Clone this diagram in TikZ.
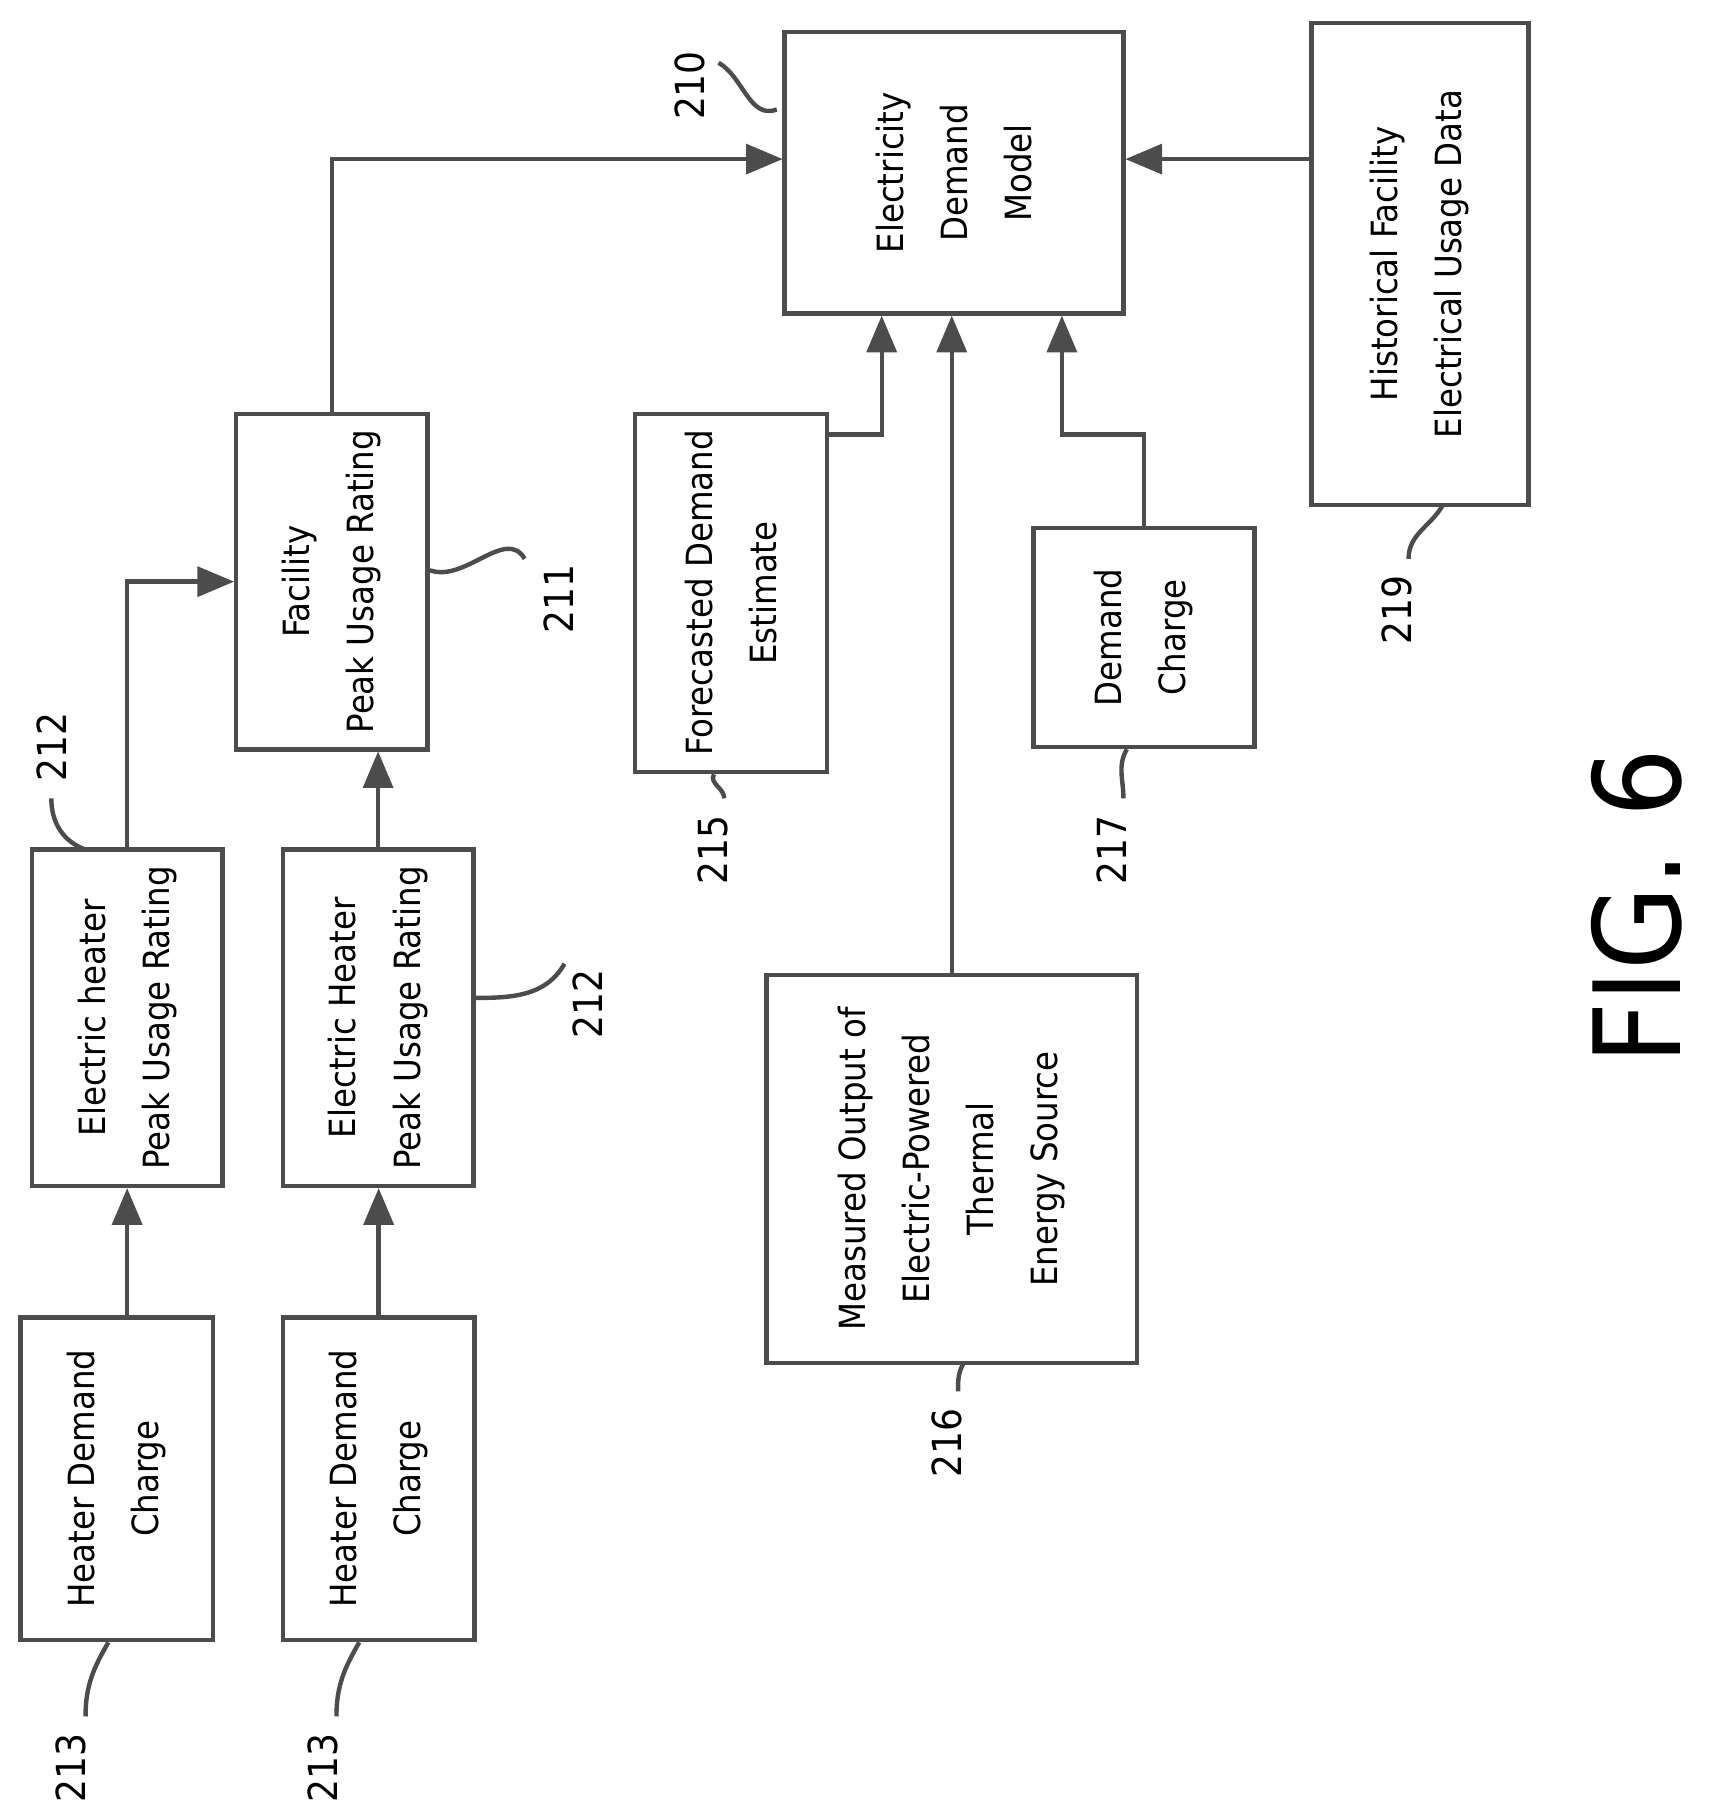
\documentclass[tikz,border=0pt]{standalone}
\usepackage{fontspec}
\setmainfont{DejaVu Sans Condensed}
\usetikzlibrary{arrows}

\begin{document}
\begin{tikzpicture}[>=triangle 45]
\tikzstyle{blk} = [rectangle, draw=black!70, line width=1.1pt]
\tikzstyle{txt} = [rotate=90, align=center, font=\fontsize{9}{16}\selectfont]
\tikzstyle{num} = [rotate=90, font=\fontsize{10}{12}\selectfont]
\tikzstyle{ln} = [draw=black!70, line width=1.1pt]
\useasboundingbox (0,0) rectangle (15,-15.8);
% boxes
\node (edm) [blk, minimum width=2.97cm, minimum height=2.47cm] at (8.365,-1.515) {};
\node [txt] at (edm) {Electricity\\Demand\\Model};
\node (hist) [blk, minimum width=1.9cm, minimum height=4.23cm] at (12.45,-2.315) {};
\node [txt] at (hist) {Historical Facility\\Electrical Usage Data};
\node (fpr) [blk, minimum width=1.68cm, minimum height=2.94cm] at (2.91,-5.10) {};
\node [txt] at (fpr) {Facility\\Peak Usage Rating};
\node (fde) [blk, minimum width=1.68cm, minimum height=3.14cm] at (6.41,-5.20) {};
\node [txt] at (fde) {Forecasted Demand\\Estimate};
\node (dc) [blk, minimum width=1.94cm, minimum height=1.92cm] at (10.03,-5.59) {};
\node [txt] at (dc) {Demand\\Charge};
\node (ehr1) [blk, minimum width=1.67cm, minimum height=2.95cm] at (1.115,-8.925) {};
\node [txt] at (ehr1) {Electric heater\\Peak Usage Rating};
\node (ehr2) [blk, minimum width=1.67cm, minimum height=2.95cm] at (3.315,-8.925) {};
\node [txt] at (ehr2) {Electric Heater\\Peak Usage Rating};
\node (mo) [blk, minimum width=3.25cm, minimum height=3.40cm] at (8.345,-10.25) {};
\node [txt] at (mo) {Measured Output of\\Electric-Powered\\Thermal\\Energy Source};
\node (hdc1) [blk, minimum width=1.69cm, minimum height=2.83cm] at (1.025,-12.965) {};
\node [txt] at (hdc1) {Heater Demand\\Charge};
\node (hdc2) [blk, minimum width=1.68cm, minimum height=2.83cm] at (3.32,-12.965) {};
\node [txt] at (hdc2) {Heater Demand\\Charge};
% connectors
\draw [ln,->] (ehr1.south |- hdc1.north) -- (ehr1.south);
\draw [ln,->] (hdc2.north) -- (hdc2.north |- ehr2.south);
\draw [ln,->] (ehr1.north) |- (fpr.west);
\draw [ln,->] (ehr2.north) -- (ehr2.north |- fpr.south);
\draw [ln,->] (fpr.north) |- ([yshift=1.2mm]edm.west);
\draw [ln,->] ([yshift=-2mm]fde.north east) -| ([xshift=8.7mm]edm.south west);
\draw [ln,->] (mo.north) -- (mo.north |- edm.south);
\draw [ln,->] (dc.north) -- ++(0,0.8) -| ([xshift=24.5mm]edm.south west);
\draw [ln,->] ([yshift=1.2mm]hist.west |- edm.east) -- ([yshift=1.2mm]edm.east);
% reference numerals
\node (n210) [num] at (6.05,-0.75) {210};
\draw [ln] (6.3,-0.55) to[out=-30,in=-160] ([xshift=-0.5mm,yshift=-0.7cm]edm.north west);
\node (n211) [num] at (4.9,-5.25) {211};
\draw [ln] (4.6,-4.9) to[out=120,in=-20] ([yshift=1mm]fpr.east);
\node (n212a) [num] at (0.45,-6.55) {212};
\draw [ln] (0.45,-7.0) to[out=-90,in=160] (0.75,-7.45);
\node (n212b) [num] at (5.15,-8.8) {212};
\draw [ln] (4.95,-8.45) to[out=-120,in=0] (4.15,-8.75);
\node (n213a) [num] at (0.62,-15.5) {213};
\draw [ln] (0.75,-15.05) to[out=90,in=-120] (0.95,-14.4);
\node (n213b) [num] at (2.83,-15.5) {213};
\draw [ln] (2.95,-15.05) to[out=90,in=-120] (3.15,-14.4);
\node (n215) [num] at (6.25,-7.45) {215};
\draw [ln] (6.35,-7.0) to[out=90,in=-120] ([xshift=-1.5mm]fde.south);
\node (n216) [num] at (8.3,-12.65) {216};
\draw [ln] (8.4,-12.2) to[out=90,in=-120] (8.45,-11.95);
\node (n217) [num] at (9.75,-7.45) {217};
\draw [ln] (9.85,-7.0) to[out=90,in=-120] ([xshift=-1.5mm]dc.south);
\node (n219) [num] at (12.25,-5.35) {219};
\draw [ln] (12.35,-4.9) to[out=90,in=-120] (12.65,-4.43);
\node (fig) [rotate=90, font=\fontsize{30}{34}\selectfont] at (14.35,-7.95) {FIG. 6};
\end{tikzpicture}
\end{document}
